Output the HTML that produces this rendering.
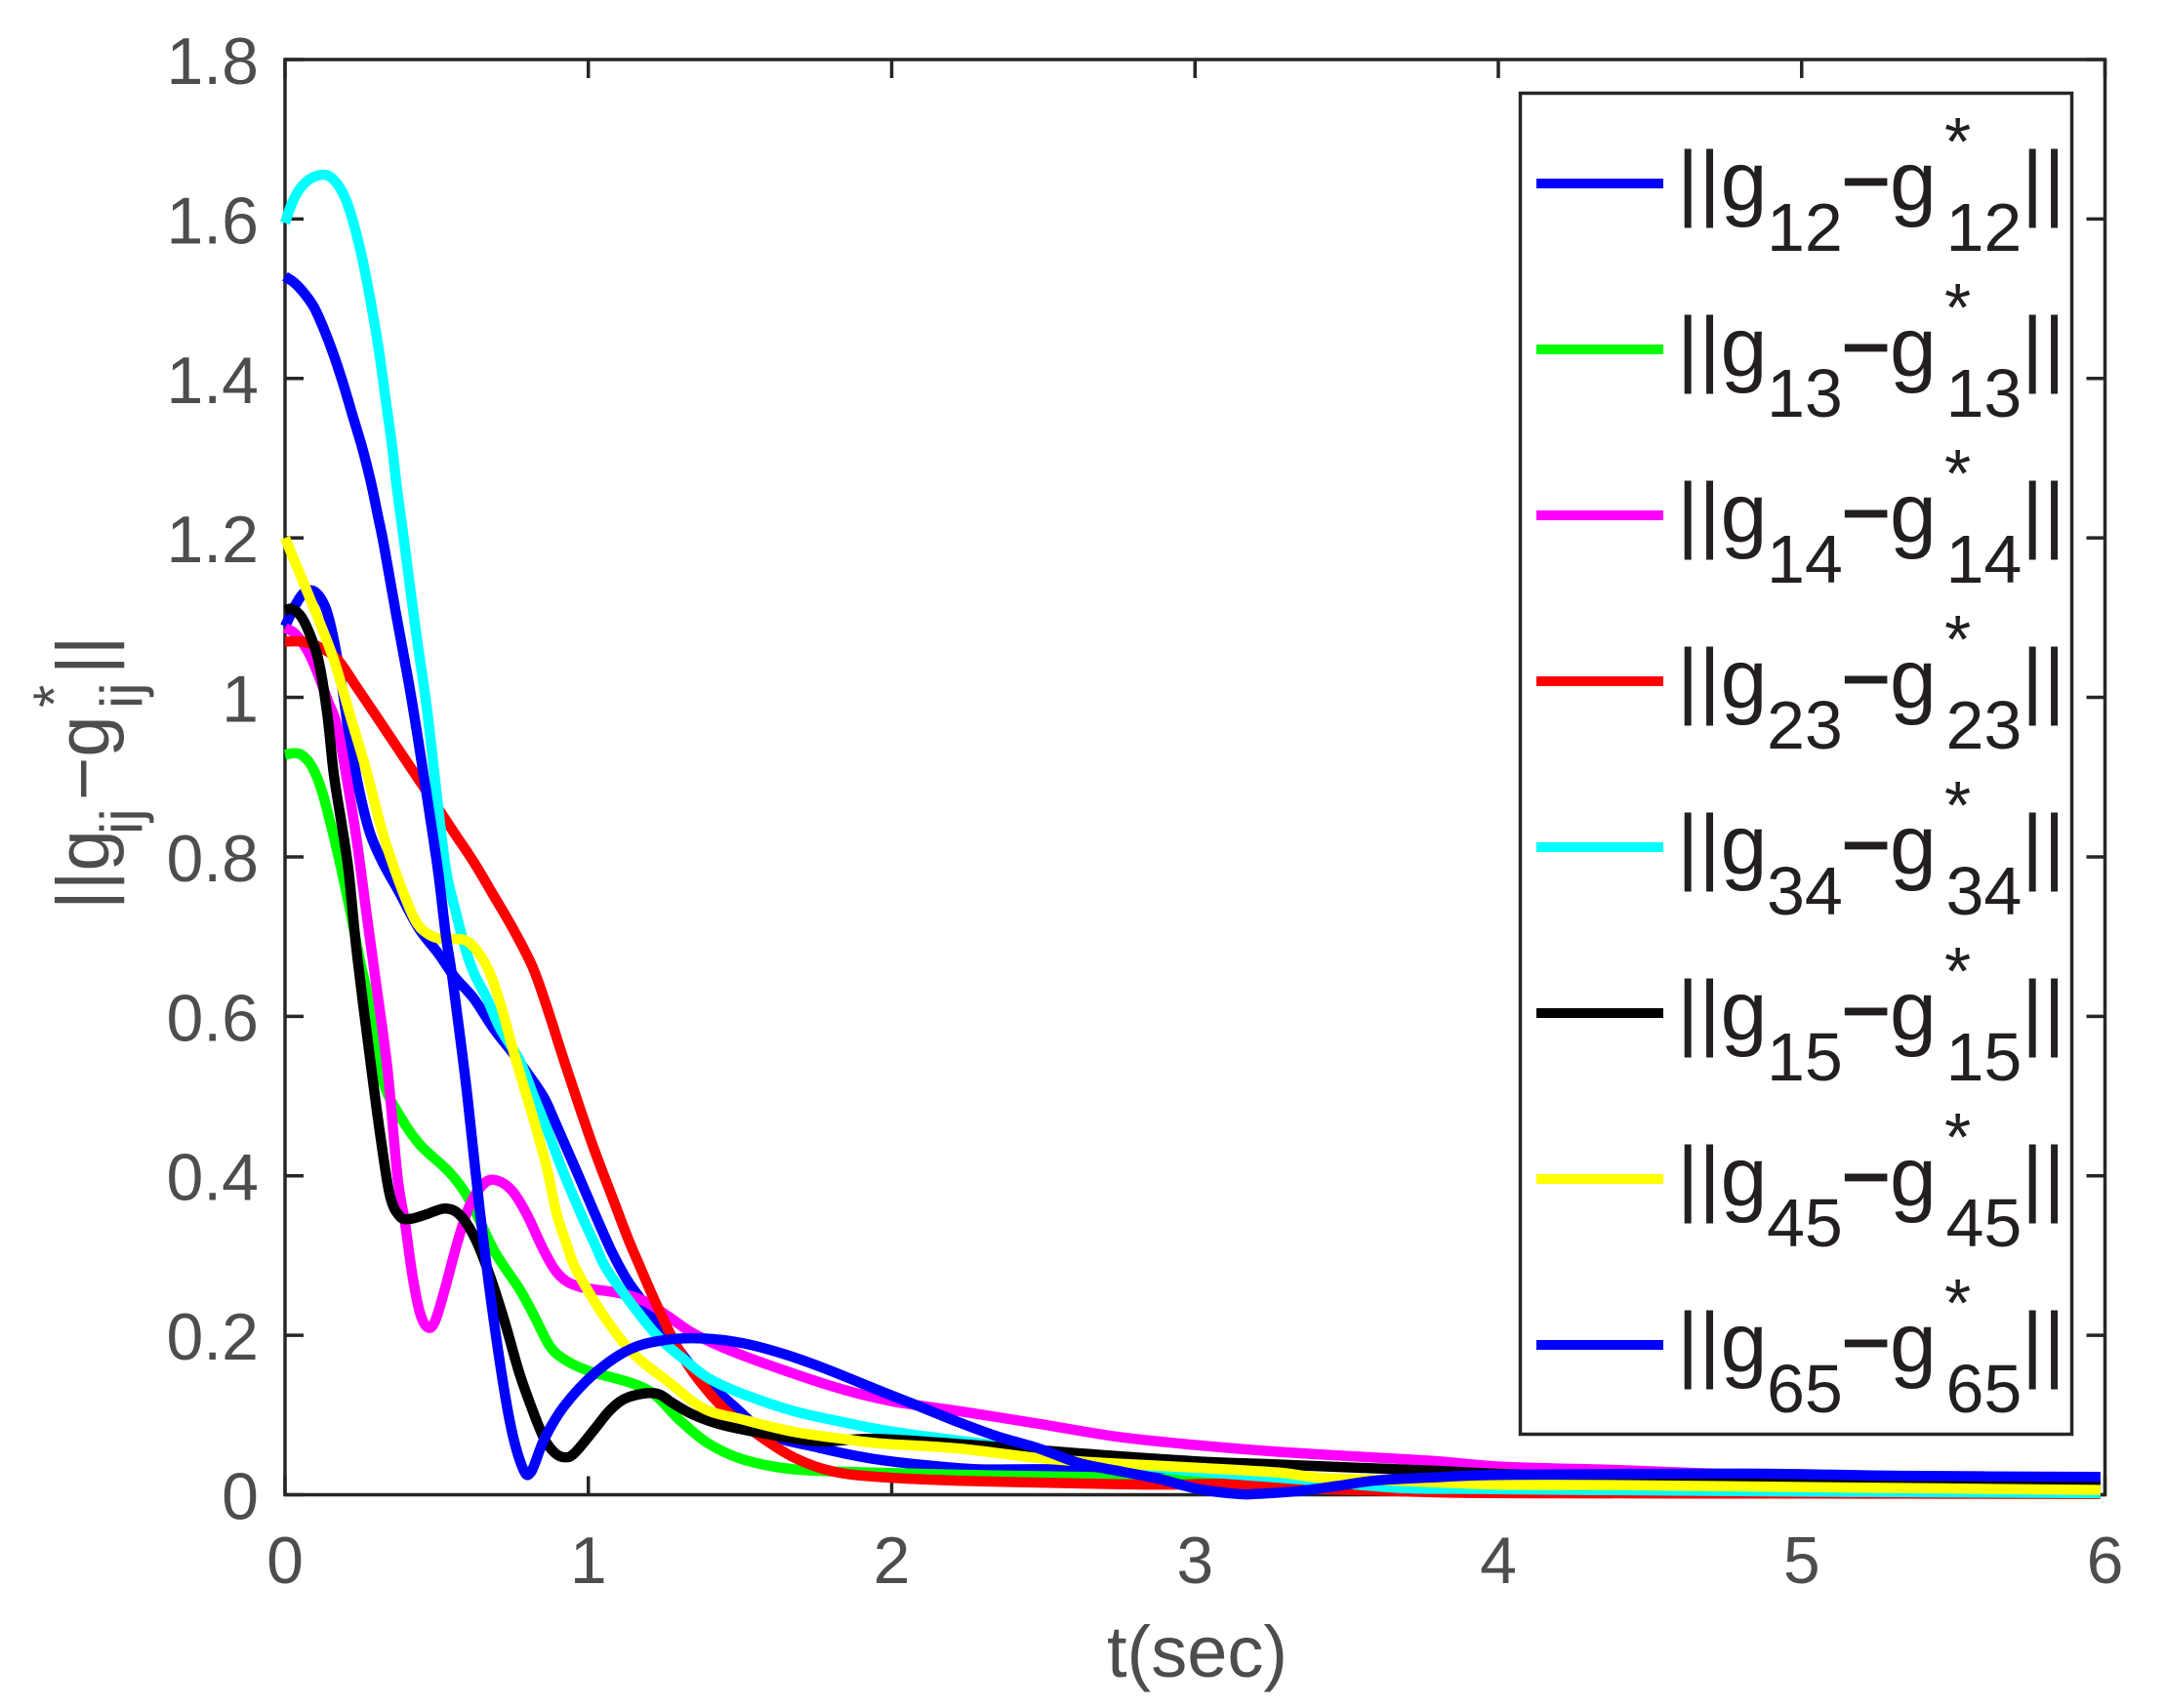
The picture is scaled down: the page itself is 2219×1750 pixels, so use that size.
<!DOCTYPE html>
<html lang="en">
<head>
<meta charset="utf-8">
<title>Convergence of bearing errors</title>
<style>
html,body{margin:0;padding:0;background:#fff;width:2219px;height:1750px;overflow:hidden}
svg{display:block}
text{font-family:"Liberation Sans",Arial,sans-serif;white-space:pre}
.tick-label{font-size:68px;fill:#4d4d4d}
.ax{fill:#4d4d4d}
.lg{fill:#231f20}
.lm{font-size:86px}
.ls{font-size:70px}
.minus{stroke:#231f20;stroke-width:1.8px}
</style>
</head>
<body>
<svg id="chart" xmlns="http://www.w3.org/2000/svg" width="2219" height="1750" viewBox="0 0 2219 1750">
  <rect x="0" y="0" width="2219" height="1750" fill="#fff"/>
  <g id="axes"></g>
  <g id="series"></g>

  <text class="ax" x="1134" y="1718" font-size="74">t(sec)</text>

  <g class="ax">
    <text transform="translate(111,932) rotate(-90)" font-size="76">||g</text>
    <text transform="translate(145,855) rotate(-90)" font-size="60">ij</text>
    <text transform="translate(111,820) rotate(-90)" font-size="76">−g</text>
    <text transform="translate(145,726) rotate(-90)" font-size="60">ij</text>
    <text transform="translate(76,725) rotate(-90)" font-size="60">*</text>
    <text transform="translate(111,691) rotate(-90)" font-size="76">||</text>
  </g>

  <rect x="1557.5" y="95.5" width="565" height="1374" fill="#fff" stroke="#262626" stroke-width="3.5"/>

  <g>
    <rect x="1574" y="183" width="130" height="10" fill="#0000ff"/>
    <g class="lg">
      <text class="lm" x="1718" y="215">||g</text><text class="ls" x="1810" y="257">12</text>
      <text class="lm minus" x="1886.5" y="215">−</text><text class="lm" x="1936" y="215">g</text>
      <text class="ls" x="1992" y="169">*</text><text class="ls" x="1993.5" y="257">12</text>
      <text class="lm" x="2071" y="215">||</text>
    </g>
  </g>
  <g transform="translate(0,170)">
    <rect x="1574" y="183" width="130" height="10" fill="#00ff00"/>
    <g class="lg">
      <text class="lm" x="1718" y="215">||g</text><text class="ls" x="1810" y="257">13</text>
      <text class="lm minus" x="1886.5" y="215">−</text><text class="lm" x="1936" y="215">g</text>
      <text class="ls" x="1992" y="169">*</text><text class="ls" x="1993.5" y="257">13</text>
      <text class="lm" x="2071" y="215">||</text>
    </g>
  </g>
  <g transform="translate(0,340)">
    <rect x="1574" y="183" width="130" height="10" fill="#ff00ff"/>
    <g class="lg">
      <text class="lm" x="1718" y="215">||g</text><text class="ls" x="1810" y="257">14</text>
      <text class="lm minus" x="1886.5" y="215">−</text><text class="lm" x="1936" y="215">g</text>
      <text class="ls" x="1992" y="169">*</text><text class="ls" x="1993.5" y="257">14</text>
      <text class="lm" x="2071" y="215">||</text>
    </g>
  </g>
  <g transform="translate(0,510)">
    <rect x="1574" y="183" width="130" height="10" fill="#ff0000"/>
    <g class="lg">
      <text class="lm" x="1718" y="215">||g</text><text class="ls" x="1810" y="257">23</text>
      <text class="lm minus" x="1886.5" y="215">−</text><text class="lm" x="1936" y="215">g</text>
      <text class="ls" x="1992" y="169">*</text><text class="ls" x="1993.5" y="257">23</text>
      <text class="lm" x="2071" y="215">||</text>
    </g>
  </g>
  <g transform="translate(0,680)">
    <rect x="1574" y="183" width="130" height="10" fill="#00ffff"/>
    <g class="lg">
      <text class="lm" x="1718" y="215">||g</text><text class="ls" x="1810" y="257">34</text>
      <text class="lm minus" x="1886.5" y="215">−</text><text class="lm" x="1936" y="215">g</text>
      <text class="ls" x="1992" y="169">*</text><text class="ls" x="1993.5" y="257">34</text>
      <text class="lm" x="2071" y="215">||</text>
    </g>
  </g>
  <g transform="translate(0,850)">
    <rect x="1574" y="183" width="130" height="10" fill="#000000"/>
    <g class="lg">
      <text class="lm" x="1718" y="215">||g</text><text class="ls" x="1810" y="257">15</text>
      <text class="lm minus" x="1886.5" y="215">−</text><text class="lm" x="1936" y="215">g</text>
      <text class="ls" x="1992" y="169">*</text><text class="ls" x="1993.5" y="257">15</text>
      <text class="lm" x="2071" y="215">||</text>
    </g>
  </g>
  <g transform="translate(0,1020)">
    <rect x="1574" y="183" width="130" height="10" fill="#ffff00"/>
    <g class="lg">
      <text class="lm" x="1718" y="215">||g</text><text class="ls" x="1810" y="257">45</text>
      <text class="lm minus" x="1886.5" y="215">−</text><text class="lm" x="1936" y="215">g</text>
      <text class="ls" x="1992" y="169">*</text><text class="ls" x="1993.5" y="257">45</text>
      <text class="lm" x="2071" y="215">||</text>
    </g>
  </g>
  <g transform="translate(0,1190)">
    <rect x="1574" y="183" width="130" height="10" fill="#0000ff"/>
    <g class="lg">
      <text class="lm" x="1718" y="215">||g</text><text class="ls" x="1810" y="257">65</text>
      <text class="lm minus" x="1886.5" y="215">−</text><text class="lm" x="1936" y="215">g</text>
      <text class="ls" x="1992" y="169">*</text><text class="ls" x="1993.5" y="257">65</text>
      <text class="lm" x="2071" y="215">||</text>
    </g>
  </g>
</svg>

<script>
const xTickValues = [0, 1, 2, 3, 4, 5, 6];
const xTickLabels = ["0", "1", "2", "3", "4", "5", "6"];
const yTickValues = [0, 0.2, 0.4, 0.6, 0.8, 1, 1.2, 1.4, 1.6, 1.8];
const yTickLabels = ["0", "0.2", "0.4", "0.6", "0.8", "1", "1.2", "1.4", "1.6", "1.8"];

const g12T = [0,.033,.065,.1,.135,.162,.188,.215,.247,.28,.322,.376,.44,.505,.558,.623,.687,.757,.81,.855,.885,.916,.97,1.024,1.077,1.13,1.184,1.266,1.348,1.48,1.594,1.759,1.923,2.087,2.28,2.485,2.745,3,3.27,3.6,4,5,5.985];
const g12V = [1.089,1.115,1.132,1.132,1.111,1.07,1.013,.944,.879,.83,.793,.756,.711,.679,.65,.622,.585,.551,.523,.497,.472,.445,.398,.35,.305,.268,.24,.199,.158,.111,.076,.059,.046,.038,.032,.032,.03,.024,.02,.012,.005,.003,.002];

const g13T = [0,.027,.054,.086,.118,.15,.183,.215,.247,.273,.322,.379,.445,.543,.609,.691,.773,.823,.872,.92,1.003,1.135,1.217,1.3,1.397,1.512,1.676,1.923,2.28,2.615,2.88,3.27,3.55,4,5,5.985];
const g13V = [.928,.93,.928,.915,.887,.842,.789,.732,.67,.625,.521,.475,.439,.404,.369,.305,.258,.223,.187,.17,.155,.141,.126,.094,.064,.044,.032,.028,.0246,.0225,.02,.0176,.009,.004,.002,.001];

const g14T = [0,.033,.075,.108,.14,.172,.205,.236,.269,.297,.338,.371,.396,.42,.445,.47,.494,.527,.568,.609,.658,.7,.749,.798,.855,.905,.97,1.1,1.184,1.266,1.348,1.48,1.676,1.84,2.005,2.22,2.485,2.745,3,3.27,3.53,3.8,4.02,4.42,4.81,5.33,5.985];
const g14V = [1.087,1.08,1.058,1.03,.997,.964,.895,.822,.728,.65,.533,.398,.34,.275,.228,.21,.217,.258,.316,.363,.391,.394,.381,.351,.305,.275,.261,.253,.243,.223,.202,.179,.152,.132,.117,.105,.089,.0727,.0624,.054,.048,.042,.035,.0306,.025,.02,.016];

const g23T = [0,.054,.108,.172,.236,.3,.365,.43,.494,.558,.623,.687,.75,.816,.863,.916,.97,1.024,1.077,1.13,1.168,1.217,1.282,1.348,1.447,1.545,1.676,1.808,1.972,2.22,2.615,2.88,3.14,3.4,3.67,4,5,5.985];
const g23V = [1.07,1.07,1.064,1.048,1.013,.977,.94,.903,.867,.83,.793,.752,.711,.662,.612,.549,.487,.428,.375,.322,.288,.245,.193,.152,.108,.079,.047,.029,.022,.0176,.0143,.0127,.0135,.0073,.0045,.002,.0015,.001];

const g34T = [0,.02,.042,.074,.112,.144,.176,.203,.23,.256,.283,.31,.332,.353,.369,.395,.43,.468,.505,.532,.565,.596,.623,.666,.709,.773,.82,.863,.916,.97,1.024,1.06,1.151,1.233,1.315,1.397,1.512,1.676,1.84,2.005,2.29,2.6,2.9,3.27,3.4,3.67,3.93,4.3,5,5.985];
const g34V = [1.595,1.617,1.634,1.648,1.655,1.654,1.642,1.622,1.589,1.548,1.495,1.434,1.373,1.315,1.262,1.189,1.087,.985,.862,.781,.728,.683,.654,.622,.585,.545,.5,.459,.406,.357,.312,.283,.235,.197,.17,.146,.126,.105,.091,.079,.0645,.05,.033,.0216,.0176,.0086,.0073,.006,.004,.002];

const g15T = [0,.022,.054,.086,.113,.14,.161,.188,.21,.237,.281,.314,.346,.379,.412,.461,.527,.576,.626,.675,.724,.773,.823,.855,.888,.921,.954,1.02,1.069,1.118,1.184,1.233,1.282,1.348,1.447,1.594,1.759,1.958,2.35,2.615,3,3.27,3.53,3.8,4.02,4.68,5.33,5.985];
const g15V = [1.109,1.111,1.101,1.075,1.042,.977,.903,.838,.781,.679,.545,.451,.375,.349,.346,.351,.359,.351,.322,.275,.217,.152,.099,.07,.053,.047,.052,.082,.105,.12,.127,.126,.114,.1,.087,.076,.067,.07,.06,.052,.042,.038,.034,.03,.026,.0184,.0163,.011];

const g45T = [0,.065,.108,.162,.215,.269,.322,.376,.43,.473,.516,.569,.612,.666,.709,.757,.82,.863,.895,.927,.959,1.053,1.151,1.266,1.381,1.512,1.676,1.84,1.958,2.22,2.485,2.7,3,3.27,3.4,3.53,3.8,4.02,4.42,5.07,5.985];
const g45V = [1.2,1.14,1.1,1.046,.977,.907,.83,.769,.72,.703,.697,.697,.691,.662,.617,.551,.47,.41,.353,.316,.283,.223,.176,.141,.108,.094,.079,.07,.0645,.058,.046,.04,.034,.028,.0216,.0196,.0155,.0125,.012,.0094,.006];

const g65T = [0,.031,.063,.096,.128,.16,.192,.224,.256,.283,.305,.326,.365,.408,.44,.473,.505,.531,.553,.6,.642,.691,.74,.782,.81,.855,.92,1.02,1.135,1.25,1.38,1.51,1.64,1.775,1.97,2.09,2.22,2.35,2.485,2.615,2.745,2.88,3.01,3.14,3.2,3.34,3.47,3.6,3.8,4.02,4.81,5.33,5.985];
const g65V = [1.528,1.52,1.507,1.489,1.462,1.43,1.393,1.352,1.311,1.27,1.23,1.191,1.107,1.018,.944,.863,.781,.699,.645,.504,.357,.211,.094,.035,.028,.07,.111,.152,.182,.194,.196,.19,.177,.159,.129,.111,.091,.073,.058,.04,.03,.02,.0073,.001,.001,.0045,.011,.018,.022,.025,.0265,.0237,.0224];

const seriesNames = ["g12", "g13", "g14", "g23", "g34", "g15", "g45", "g65"];
const seriesColors = ["#0000ff", "#00ff00", "#ff00ff", "#ff0000", "#00ffff", "#000000", "#ffff00", "#0000ff"];
const seriesTimes = [g12T, g13T, g14T, g23T, g34T, g15T, g45T, g65T];
const seriesValues = [g12V, g13V, g14V, g23V, g34V, g15V, g45V, g65V];

const NS = "http://www.w3.org/2000/svg";
const plotLeft = 292, plotRight = 2156.5, plotTop = 61, plotBottom = 1531.5;
const xMax = 6, yMax = 1.8, tickLen = 19;
function xScale(t) { return plotLeft + (t / xMax) * (plotRight - plotLeft); }
function yScale(v) { return plotBottom - (v / yMax) * (plotBottom - plotTop); }

function linePath(ts, vs) {
  const p = ts.map(function (t, i) { return [xScale(t), yScale(vs[i])]; });
  let d = "M" + p[0][0].toFixed(2) + " " + p[0][1].toFixed(2);
  const k = 1 / 6;
  for (let i = 0; i < p.length - 1; i++) {
    const a = p[Math.max(0, i - 1)], b = p[i], c = p[i + 1], e = p[Math.min(p.length - 1, i + 2)];
    const c1x = b[0] + (c[0] - a[0]) * k, c1y = b[1] + (c[1] - a[1]) * k;
    const c2x = c[0] - (e[0] - b[0]) * k, c2y = c[1] - (e[1] - b[1]) * k;
    d += "C" + c1x.toFixed(2) + " " + c1y.toFixed(2) + " " + c2x.toFixed(2) + " " + c2y.toFixed(2) + " " + c[0].toFixed(2) + " " + c[1].toFixed(2);
  }
  return d;
}

const axes = document.getElementById("axes");
const box = document.createElementNS(NS, "rect");


box.setAttribute("x", plotLeft);
box.setAttribute("y", plotTop);
box.setAttribute("width", plotRight - plotLeft);
box.setAttribute("height", plotBottom - plotTop);
box.setAttribute("fill", "none");
box.setAttribute("stroke", "#262626");
box.setAttribute("stroke-width", "3.5");
axes.appendChild(box);

function tickLine(x1, y1, x2, y2) {
  const l = document.createElementNS(NS, "line");
  
  
  l.setAttribute("x1", x1);
  l.setAttribute("y1", y1);
  l.setAttribute("x2", x2);
  l.setAttribute("y2", y2);
  l.setAttribute("stroke", "#262626");
  l.setAttribute("stroke-width", "3.5");
  axes.appendChild(l);
}

xTickValues.forEach(function (t, i) {
  const x = xScale(t);
  tickLine(x, plotBottom, x, plotBottom - tickLen);
  tickLine(x, plotTop, x, plotTop + tickLen);
  const label = document.createElementNS(NS, "text");
  
  
  label.setAttribute("class", "tick-label");
  label.setAttribute("x", x);
  label.setAttribute("y", 1622);
  label.setAttribute("text-anchor", "middle");
  label.textContent = xTickLabels[i];
  axes.appendChild(label);
});

yTickValues.forEach(function (v, i) {
  const y = yScale(v);
  tickLine(plotLeft, y, plotLeft + tickLen, y);
  tickLine(plotRight, y, plotRight - tickLen, y);
  const label = document.createElementNS(NS, "text");
  
  
  label.setAttribute("class", "tick-label");
  label.setAttribute("x", 265);
  label.setAttribute("y", y + 25);
  label.setAttribute("text-anchor", "end");
  label.textContent = yTickLabels[i];
  axes.appendChild(label);
});

const seriesGroup = document.getElementById("series");
seriesNames.forEach(function (name, i) {
  const path = document.createElementNS(NS, "path");
  
  
  path.setAttribute("d", linePath(seriesTimes[i], seriesValues[i]));
  path.setAttribute("fill", "none");
  path.setAttribute("stroke", seriesColors[i]);
  path.setAttribute("stroke-width", "10.5");
  path.setAttribute("stroke-linejoin", "round");
  path.setAttribute("stroke-linecap", "butt");
  seriesGroup.appendChild(path);
});
</script>
</body>
</html>
